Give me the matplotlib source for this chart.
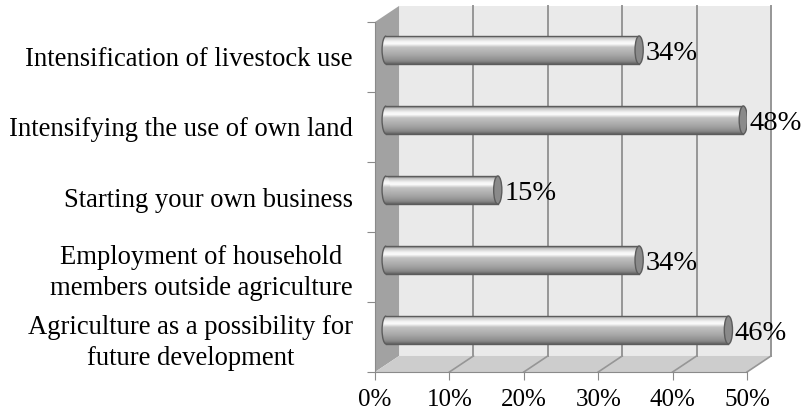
import numpy as np
import matplotlib.pyplot as plt
from matplotlib.colors import LinearSegmentedColormap
from matplotlib.patches import Ellipse, Polygon, Rectangle, Arc

categories = ['Agriculture as a possibility for\nfuture development',
              'Employment of household\nmembers outside agriculture',
              'Starting your own business',
              'Intensifying the use of own land',
              'Intensification of livestock use']
values = [46, 34, 15, 48, 34]
xticks = [0, 10, 20, 30, 40, 50]

plt.rcParams['font.family'] = 'Liberation Serif'

fig = plt.figure(figsize=(8.08, 4.19), dpi=100)
ax = fig.add_axes([375/808, 47/419, 372/808, 350/419])
ax.set_xlim(0, 50)
ax.set_ylim(0, 5)

# depth of the 3d box in data units, and the bars sit halfway in
DX, DY = 3.23, 0.229
BX, BY = 1.5, 0.1
H = 0.4
CAP = 1.1

wall_c = '#eaeaea'
floor_c = '#cdcdcd'
side_c = '#a2a2a2'
grid_c = '#969696'

# back wall
ax.add_patch(Rectangle((DX, DY), 50, 5, facecolor=wall_c, edgecolor='none',
                       zorder=0, clip_on=False))
# left side wall
ax.add_patch(Polygon([(0, 0), (0, 5), (DX, 5 + DY), (DX, DY)], closed=True,
                     facecolor=side_c, edgecolor='none', zorder=0.5, clip_on=False))
# floor
ax.add_patch(Polygon([(0, 0), (50, 0), (50 + DX, DY), (DX, DY)], closed=True,
                     facecolor=floor_c, edgecolor='none', zorder=0.5, clip_on=False))
for t in xticks[1:]:
    ax.plot([t + DX, t + DX], [DY, 5 + DY], color=grid_c, lw=1.4, zorder=0.6,
            clip_on=False)
    ax.plot([t, t + DX], [0, DY], color=grid_c, lw=1.2, zorder=0.6, clip_on=False)

# cylinder shading, top to bottom
cyl = LinearSegmentedColormap.from_list('cyl', [
    (0.0, '#6e6e6e'), (0.08, '#c4c4c4'), (0.22, '#f4f4f4'), (0.3, '#fcfcfc'),
    (0.42, '#c2c2c2'), (0.7, '#a6a6a6'), (0.9, '#8a8a8a'), (1.0, '#636363')])
grad = cyl(np.linspace(0, 1, 120))[:, None, :3]

ypos = np.arange(len(values)) + 0.5 + BY
bars = ax.barh(ypos, values, height=H, left=BX, color='none', edgecolor='none',
               zorder=2)
for bar, y, v in zip(bars, ypos, values):
    x0, x1 = BX, BX + v
    im = ax.imshow(grad, aspect='auto', extent=(x0 - CAP, x1, y - H / 2, y + H / 2),
                   zorder=2, interpolation='bilinear')
    lcap = Ellipse((x0, y), CAP, H, facecolor='none', edgecolor='none')
    ax.add_patch(lcap)
    body = Rectangle((x0, y - H / 2), v, H, facecolor='none', edgecolor='none')
    ax.add_patch(body)
    im.set_clip_path(body)
    im2 = ax.imshow(grad, aspect='auto', extent=(x0 - CAP, x1, y - H / 2, y + H / 2),
                    zorder=2, interpolation='bilinear')
    im2.set_clip_path(lcap)
    ax.plot([x0, x1], [y + H / 2, y + H / 2], color='#5c5c5c', lw=1.0, zorder=3)
    ax.plot([x0, x1], [y - H / 2, y - H / 2], color='#5c5c5c', lw=1.0, zorder=3)
    ax.add_patch(Arc((x0, y), CAP, H, theta1=90, theta2=270, color='#5c5c5c',
                     lw=1.0, zorder=3))
    ax.add_patch(Ellipse((x1, y), CAP, H, facecolor='#8a8a8a', edgecolor='#5c5c5c',
                         lw=1.0, zorder=3))
    ax.text(x1 + CAP / 2 + 0.3, y, f'{v}%', ha='left', va='center_baseline',
            fontsize=20.5, zorder=4, clip_on=False)

ax.set_xlim(0, 50)
ax.set_ylim(0, 5)

for s in ['top', 'right']:
    ax.spines[s].set_visible(False)
for s in ['left', 'bottom']:
    ax.spines[s].set_color('#8a8a8a')
    ax.spines[s].set_zorder(1)
ax.set_facecolor('none')

ax.set_xticks(xticks)
ax.set_xticklabels([f'{t}%' for t in xticks], fontsize=18)
ax.tick_params(axis='x', length=6, color='#8a8a8a', pad=6)

ax.set_yticks(np.arange(6))
ax.set_yticklabels([])
ax.tick_params(axis='y', which='major', length=6, color='#8a8a8a')
ax.set_yticks(np.arange(len(categories)) + 0.5, minor=True)
ax.set_yticklabels(categories, minor=True, fontsize=19.2, multialignment='center',
                   linespacing=1.3)
ax.tick_params(axis='y', which='minor', length=0, pad=16)

fig.savefig('out.png', dpi=100)
